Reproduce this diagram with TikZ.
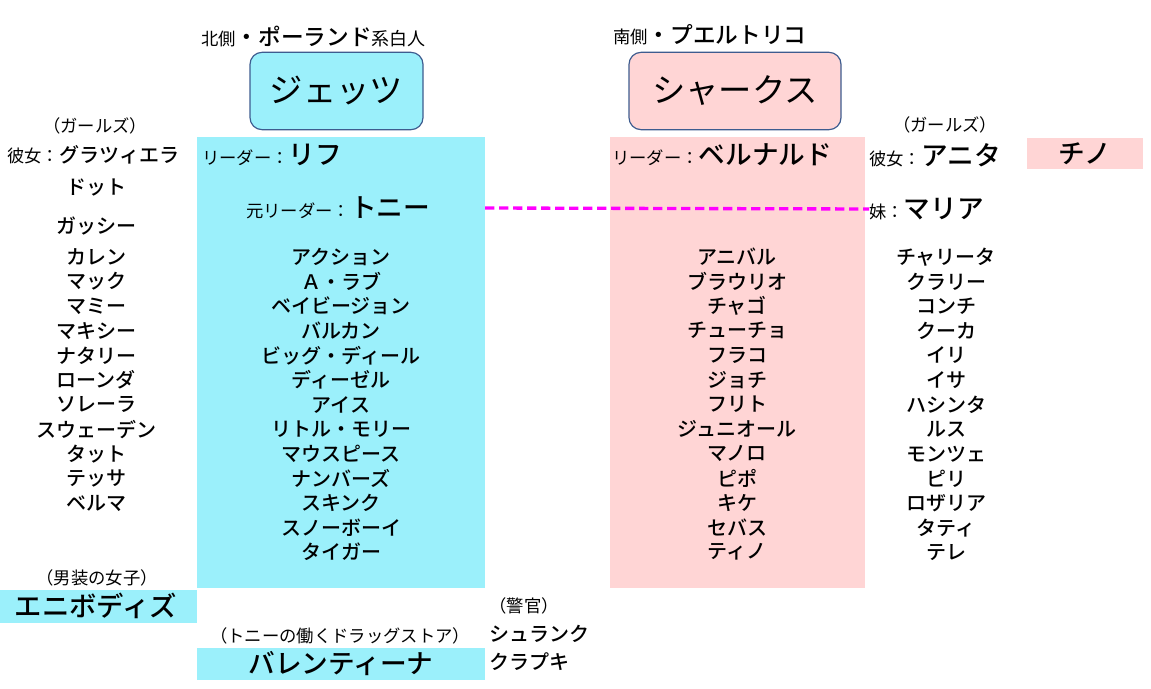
\documentclass[tikz,border=0pt]{standalone}
\usepackage{fontspec}
\setmainfont{Noto Sans CJK JP}[BoldFont={Noto Sans CJK JP Medium}]
\definecolor{jcyan}{HTML}{9BF0FB}
\definecolor{spink}{HTML}{FFD5D5}
\definecolor{bordr}{HTML}{3E5C8F}
\definecolor{mag}{HTML}{FF00FF}
\newcommand{\fs}[1]{\fontsize{#1}{#1}\selectfont}
\begin{document}
\begin{tikzpicture}[x=0.75pt,y=-0.75pt,
  lbl/.style={inner sep=0pt,font=\fs{13}},
  mem/.style={inner sep=0pt,font=\fs{15}\bfseries},
  big/.style={inner sep=0pt,font=\fs{20}\bfseries},
  gbox/.style={rounded corners=9pt,draw=bordr,line width=0.9pt,minimum width=130pt,minimum height=58pt,inner sep=0pt,font=\fs{25}},
  hdr/.style={inner sep=0pt,anchor=west}]
\useasboundingbox (0,0) rectangle (1151,688);
% background areas
\fill[jcyan] (197,137) rectangle (485,588);
\fill[spink] (610,137) rectangle (865,588);
\fill[spink] (1027,138) rectangle (1143,169);
\fill[jcyan] (0,590) rectangle (197,623);
\fill[jcyan] (197,648) rectangle (485,680);
% group boxes
\node[gbox,fill=jcyan,minimum width=129.75pt] (jets) at (336.5,91) {ジェッツ};
\node[gbox,fill=spink,minimum width=159pt] (sharks) at (735,91) {シャークス};
\node[hdr] (jh) at (201,37) {{\fs{13}北側}{\fs{17}\bfseries・ポーランド}{\fs{13.5}系白人}};
\node[hdr] (sh) at (613,35) {{\fs{13}南側}{\fs{17}\bfseries・プエルトリコ}};
% Jets side
\node[hdr] (riff) at (202,155) {{\fs{13}リーダー：}{\fs{20}\bfseries リフ}};
\node[hdr] (tony) at (246,208) {{\fs{13}元リーダー：}{\fs{20}\bfseries トニー}};
\node[hdr] (maria) at (869,209) {{\fs{13}妹：}{\fs{20}\bfseries マリア}};
\draw[mag,line width=2.5pt,dash pattern=on 7pt off 3.5pt] (tony.east -| 485,0) coordinate (d1) -- (maria.west) ;
% Sharks side
\node[hdr] (bern) at (612,155) {{\fs{13}リーダー：}{\fs{20}\bfseries ベルナルド}};
\node[lbl] (ag) at (945,125) {（ガールズ）};
\node[hdr] (anita) at (869,155) {{\fs{13}彼女：}{\fs{20}\bfseries アニタ}};
\node[big] (chino) at (1085,154) {チノ};
% Jets girls
\node[lbl] (jg) at (95,126) {（ガールズ）};
\node[hdr] (grz) at (7,155) {{\fs{13}彼女：}{\fs{15}\bfseries グラツィエラ}};
\node[mem] (dot) at (96,188) {ドット};
\node[mem] (gas) at (96,226) {ガッシー};
\foreach \t [count=\i from 0] in {カレン,マック,マミー,マキシー,ナタリー,ローンダ,ソレーラ,スウェーデン,タット,テッサ,ベルマ}
  \node[mem] (jgl\i) at (96,{257+24.6*\i}) {\t};
% Jets members
\foreach \t [count=\i from 0] in {アクション,Ａ・ラブ,ベイビージョン,バルカン,ビッグ・ディール,ディーゼル,アイス,リトル・モリー,マウスピース,ナンバーズ,スキンク,スノーボーイ,タイガー}
  \node[mem] (jm\i) at (341,{257+24.6*\i}) {\t};
% Sharks members
\foreach \t [count=\i from 0] in {アニバル,ブラウリオ,チャゴ,チューチョ,フラコ,ジョチ,フリト,ジュニオール,マノロ,ピポ,キケ,セバス,ティノ}
  \node[mem] (sm\i) at (737,{257+24.6*\i}) {\t};
% Sharks girls
\foreach \t [count=\i from 0] in {チャリータ,クラリー,コンチ,クーカ,イリ,イサ,ハシンタ,ルス,モンツェ,ピリ,ロザリア,タティ,テレ}
  \node[mem] (sg\i) at (946,{257+24.6*\i}) {\t};
% bottom
\node[lbl] (tb) at (97,578) {（男装の女子）};
\node[inner sep=0pt,font=\fs{20.5}\bfseries] (any) at (96,606) {エニボディズ};
\node[lbl] (cop) at (524,606) {（警官）};
\node[mem,anchor=west] (schr) at (489,634) {シュランク};
\node[mem,anchor=west] (krup) at (489,662) {クラプキ};
\node[lbl] (drug) at (340,636) {（トニーの働くドラッグストア）};
\node[big] (val) at (341,664) {バレンティーナ};
\end{tikzpicture}
\end{document}
